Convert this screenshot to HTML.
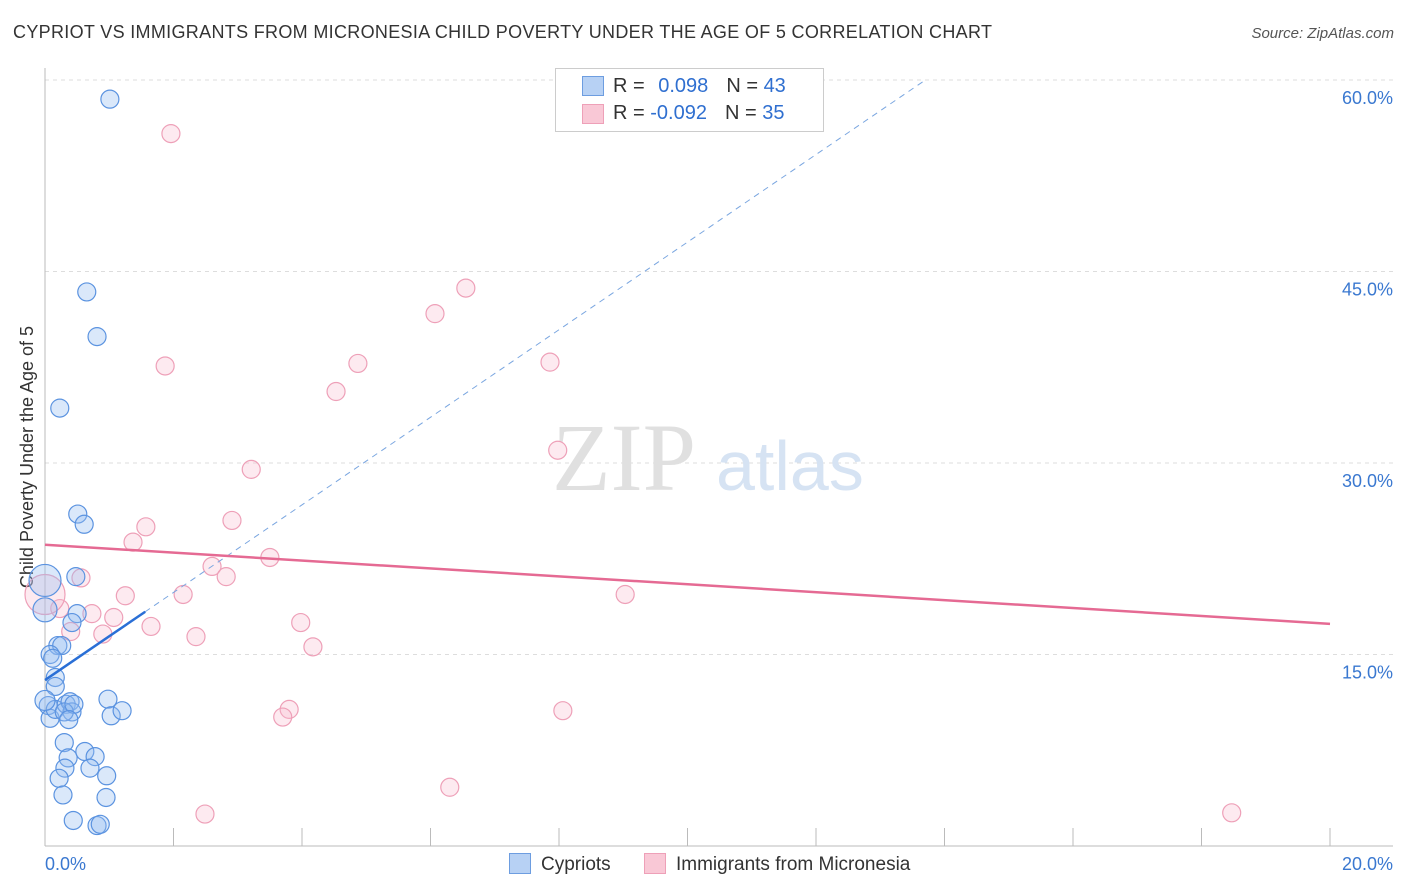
<!DOCTYPE html>
<html><head><meta charset="utf-8"><style>
body{margin:0;background:#fff;font-family:"Liberation Sans",sans-serif;}
#wrap{position:relative;width:1406px;height:892px;overflow:hidden;}
</style></head><body>
<div id="wrap">
<div style="position:absolute;left:13px;top:22px;font-size:18px;color:#333;letter-spacing:0.32px">CYPRIOT VS IMMIGRANTS FROM MICRONESIA CHILD POVERTY UNDER THE AGE OF 5 CORRELATION CHART</div>
<div style="position:absolute;right:12px;top:25px;font-size:15px;color:#555;font-style:italic">Source: ZipAtlas.com</div>
<svg id="svg" width="1406" height="892" style="position:absolute;left:0;top:0"></svg>
</div>
<script>
const blueX=[1.01,0.65,0.81,0.23,0.51,0.61,0.48,0.50,0.42,0.20,0.26,0.08,0.12,0.16,0.16,0.05,0.08,0.16,0.33,0.39,0.42,0.30,0.45,0.37,0.98,1.03,1.20,0.30,0.36,0.62,0.78,0.31,0.70,0.96,0.22,0.28,0.95,0.44,0.81,0.86,0,0,0];
const blueY=[58.5,43.4,39.9,34.3,26.0,25.2,21.1,18.2,17.5,15.7,15.7,15.0,14.7,13.2,12.5,11.0,10.0,10.7,11.1,11.3,10.5,10.5,11.1,9.9,11.5,10.2,10.6,8.1,6.9,7.4,7.0,6.1,6.1,5.5,5.3,4.0,3.8,2.0,1.6,1.7,20.8,18.5,11.4];
const blueR=[9,9,9,9,9,9,9,9,9,9,9,9,9,9,9,9,9,9,9,9,9,9,9,9,9,9,9,9,9,9,9,9,9,9,9,9,9,9,9,9,16,12,10];
const pinkX=[1.96,6.55,6.07,4.87,7.86,1.87,4.53,7.98,3.21,2.91,1.57,1.37,3.50,2.60,0.56,2.82,2.15,1.25,9.03,0.23,0.73,1.07,1.65,3.98,0.40,0.90,2.35,4.17,3.80,3.70,8.06,6.30,2.49,18.47,0];
const pinkY=[55.8,43.7,41.7,37.8,37.9,37.6,35.6,31.0,29.5,25.5,25.0,23.8,22.6,21.9,21.0,21.1,19.7,19.6,19.7,18.6,18.2,17.9,17.2,17.5,16.8,16.6,16.4,15.6,10.7,10.1,10.6,4.6,2.5,2.6,19.7];
const xTicks=["0.0%","20.0%"];
const yTickVals=[15,30,45,60];
const blueTrend=[13.0,3.43];
const pinkTrend=[23.6,-0.31];
const X0=45,X1=1330,Yb=846,pxPerY=191.5/15;
const sx=v=>X0+(X1-X0)*v/20, sy=v=>Yb-v*pxPerY;
const svg=document.getElementById('svg');const NS='http://www.w3.org/2000/svg';
function mk(t,a,p){const e=document.createElementNS(NS,t);for(const k in a)e.setAttribute(k,a[k]);(p||svg).appendChild(e);return e;}
yTickVals.forEach(v=>{
const g=mk('line',{x1:45,x2:1393,y1:sy(v),y2:sy(v),stroke:'#ddd','stroke-dasharray':'4,4'});


const t=mk('text',{x:1393,y:sy(v)+24,'text-anchor':'end','font-size':18,fill:'#3a78d0','font-family':'Liberation Sans'});
t.textContent=v.toFixed(1)+'%';


});
const ya=mk('line',{x1:45,x2:45,y1:68,y2:846,stroke:'#bbb'});


const xa=mk('line',{x1:45,x2:1393,y1:846,y2:846,stroke:'#bbb'});


for(let i=0;i<=10;i++){const tk=mk('line',{x1:sx(i*2),x2:sx(i*2),y1:828,y2:846,stroke:'#bbb'});

}
xTicks.forEach((s,i)=>{const t=mk('text',{x:i?1393:45,y:870,'text-anchor':i?'end':'start','font-size':18,fill:'#3a78d0','font-family':'Liberation Sans'});t.textContent=s;

});
const wm=mk('text',{x:552,y:490,'font-size':96,fill:'#e0e0e0','font-family':'Liberation Serif'});wm.textContent='ZIP';


const wm2=mk('text',{x:716,y:490,'font-size':70,fill:'#d6e3f3','font-family':'Liberation Sans'});wm2.textContent='atlas';


const yt=mk('text',{x:0,y:0,transform:'translate(33,457) rotate(-90)','text-anchor':'middle','font-size':18,fill:'#333','font-family':'Liberation Sans'});yt.textContent='Child Poverty Under the Age of 5';


pinkX.forEach((x,i)=>{const c=mk('circle',{cx:sx(x),cy:sy(pinkY[i]),r:i==pinkX.length-1?20:9,fill:'rgba(248,185,205,0.3)',stroke:'#eea0b8','stroke-width':1.2});

});
blueX.forEach((x,i)=>{const c=mk('circle',{cx:sx(x),cy:sy(blueY[i]),r:blueR[i],fill:'rgba(150,190,240,0.35)',stroke:'#5b93e0','stroke-width':1.2});

});
const bd=mk('line',{x1:sx(0),y1:sy(blueTrend[0]),x2:sx((60-blueTrend[0])/blueTrend[1]),y2:sy(60),stroke:'#7aa6e0','stroke-width':1,'stroke-dasharray':'6,5'});


const bs=mk('line',{x1:sx(0),y1:sy(blueTrend[0]),x2:sx(1.56),y2:sy(blueTrend[0]+blueTrend[1]*1.56),stroke:'#2a6fd6','stroke-width':2.5});


const pl=mk('line',{x1:sx(0),y1:sy(pinkTrend[0]),x2:sx(20),y2:sy(pinkTrend[0]+pinkTrend[1]*20),stroke:'#e56a93','stroke-width':2.5});


</script>
<div style="position:absolute;left:555px;top:68px;width:267px;height:62px;border:1px solid #ccc;background:#fff;font-size:20px;color:#333">
<div style="position:absolute;left:26px;top:7px;width:20px;height:18px;background:#b7d1f4;border:1px solid #6d9de0"></div>
<div style="position:absolute;left:57px;top:6px">R = <span style="color:#2f6fd0;margin-left:8px">0.098</span><span style="margin-left:18px">N = </span><span style="color:#2f6fd0">43</span></div>
<div style="position:absolute;left:26px;top:35px;width:20px;height:18px;background:#f9c8d6;border:1px solid #eea0b8"></div>
<div style="position:absolute;left:57px;top:33px">R = <span style="color:#2f6fd0">-0.092</span><span style="margin-left:18px">N = </span><span style="color:#2f6fd0">35</span></div>
</div>
<div style="position:absolute;left:509px;top:853px;font-size:19px;color:#333;white-space:nowrap">
<span><span style="display:inline-block;width:20px;height:19px;background:#b7d1f4;border:1px solid #6d9de0;vertical-align:-4px;margin-right:10px"></span>Cypriots</span>
<span style="margin-left:28px"><span style="display:inline-block;width:20px;height:19px;background:#f9c8d6;border:1px solid #eea0b8;vertical-align:-4px;margin-right:10px"></span>Immigrants from Micronesia</span>
</div>
</body></html>
